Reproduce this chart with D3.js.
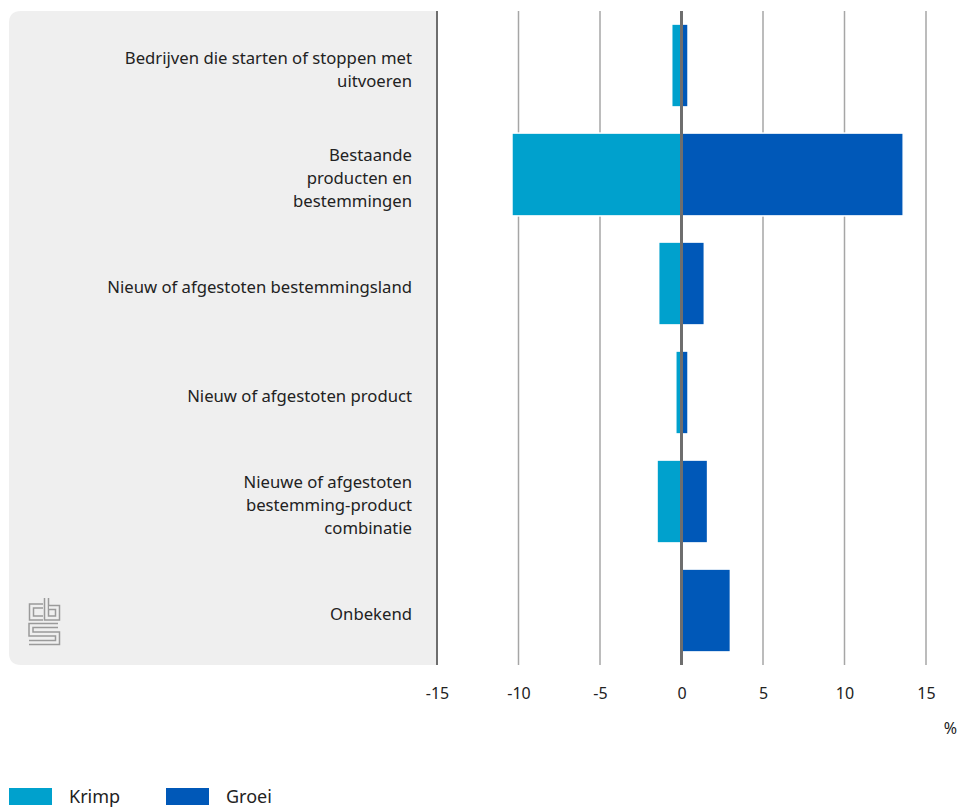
<!DOCTYPE html>
<html>
<head>
<meta charset="utf-8">
<script src="https://cdn.jsdelivr.net/npm/d3@7"></script>
<style>
  html, body { margin: 0; padding: 0; background: #ffffff; }
  svg { display: block; }
  text { font-family: "Noto Sans", "Open Sans", sans-serif; }
</style>
</head>
<body>
<svg id="chart" width="966" height="807"></svg>
<script>
// Categories (each label split into display lines)
const categories = [
  ["Bedrijven die starten of stoppen met", "uitvoeren"],
  ["Bestaande", "producten en", "bestemmingen"],
  ["Nieuw of afgestoten bestemmingsland"],
  ["Nieuw of afgestoten product"],
  ["Nieuwe of afgestoten", "bestemming-product", "combinatie"],
  ["Onbekend"]
];
// Series values (%)
const krimp = [-0.6, -10.4, -1.4, -0.35, -1.5, 0];
const groei = [0.4, 13.6, 1.4, 0.4, 1.6, 3.0];
const seriesNames = ["Krimp", "Groei"];
const seriesColors = ["#00a1cd", "#0058b8"];
const tickValues = [-15, -10, -5, 0, 5, 10, 15];
const unitLabel = "%";

const svg = d3.select("#chart");
const plotTop = 11, plotBottom = 665;
const x = d3.scaleLinear().domain([-15, 15]).range([437, 926]);
const y = d3.scaleBand().domain(d3.range(categories.length)).range([plotTop, plotBottom]).paddingInner(0.24).paddingOuter(0.12);

// Grey label panel with rounded corners
svg.append("path")
  .attr("d", `M${x(-15)},${plotTop} H21 Q9,${plotTop} 9,${plotTop + 12} V${plotBottom - 12} Q9,${plotBottom} 21,${plotBottom} H${x(-15)} Z`)
  .attr("fill", "#efefef");

// CBS logo, drawn as outlined strokes
const logo = svg.append("g").attr("fill", "none").attr("stroke-linejoin", "miter").attr("stroke-linecap", "butt");
const logoPaths = [
  "M43,606 H31.5 V618 H43",
  "M46.5,598 V618 H57.5 V607.5 H49",
  "M58,625.5 H31 V634 H57.5 V642.5 H29"
];
logoPaths.forEach(d => {
  logo.append("path").attr("d", d).attr("stroke", "#9a9a9a").attr("stroke-width", 5.5);
});
logoPaths.forEach(d => {
  logo.append("path").attr("d", d).attr("stroke", "#efefef").attr("stroke-width", 2.5);
});

// Vertical gridlines
svg.append("g").selectAll("line")
  .data(tickValues.filter(t => t !== -15 && t !== 0))
  .join("line")
  .attr("x1", d => x(d)).attr("x2", d => x(d))
  .attr("y1", plotTop).attr("y2", plotBottom)
  .attr("stroke", "#a6a6a6").attr("stroke-width", 1.5);

// Left axis line
svg.append("line")
  .attr("x1", x(-15)).attr("x2", x(-15))
  .attr("y1", plotTop).attr("y2", plotBottom)
  .attr("stroke", "#6e6e6e").attr("stroke-width", 2);

// Bars
const bars = svg.append("g");
[krimp, groei].forEach((vals, si) => {
  bars.selectAll(null)
    .data(vals.map((v, i) => ({ v, i })).filter(d => d.v !== 0))
    .join("rect")
    .attr("x", d => x(Math.min(0, d.v)))
    .attr("width", d => Math.abs(x(d.v) - x(0)))
    .attr("y", d => y(d.i))
    .attr("height", y.bandwidth())
    .attr("fill", seriesColors[si])
    .attr("stroke", "#ffffff")
    .attr("stroke-width", 1.5);
});

// Zero line
svg.append("line")
  .attr("x1", x(0)).attr("x2", x(0))
  .attr("y1", plotTop).attr("y2", plotBottom)
  .attr("stroke", "#6e6e6e").attr("stroke-width", 3);

// Category labels
const lineH = 23;
const labels = svg.append("g").attr("text-anchor", "end").attr("fill", "#222").style("font-size", "16.7px");
categories.forEach((lines, i) => {
  const cy = y(i) + y.bandwidth() / 2;
  const t = labels.append("text").attr("x", 412);
  lines.forEach((ln, k) => {
    t.append("tspan")
      .attr("x", 412)
      .attr("y", cy + 9.5 + (k - (lines.length - 1) / 2) * lineH)
      .text(ln);
  });
});

// X axis tick labels
const axis = d3.axisBottom(x).tickValues(tickValues).tickSize(0).tickPadding(0).tickFormat(d => String(d));
const axisG = svg.append("g").attr("transform", `translate(0, 699)`).call(axis);
axisG.select(".domain").remove();
axisG.selectAll("text")
  .attr("dy", 0)
  .attr("fill", "#222")
  .style("font-family", "\"Noto Sans\", sans-serif")
  .style("font-size", "16px");

svg.append("text")
  .attr("x", 957).attr("y", 734)
  .attr("text-anchor", "end")
  .attr("fill", "#222")
  .style("font-size", "16px")
  .text(unitLabel);

// Legend
const legend = svg.append("g");
seriesNames.forEach((name, i) => {
  const lx = 9 + i * 157;
  legend.append("rect").attr("x", lx).attr("y", 788).attr("width", 43).attr("height", 17).attr("fill", seriesColors[i]);
  legend.append("text").attr("x", lx + 60).attr("y", 803).attr("fill", "#222").style("font-size", "18px").text(name);
});
</script>
</body>
</html>
